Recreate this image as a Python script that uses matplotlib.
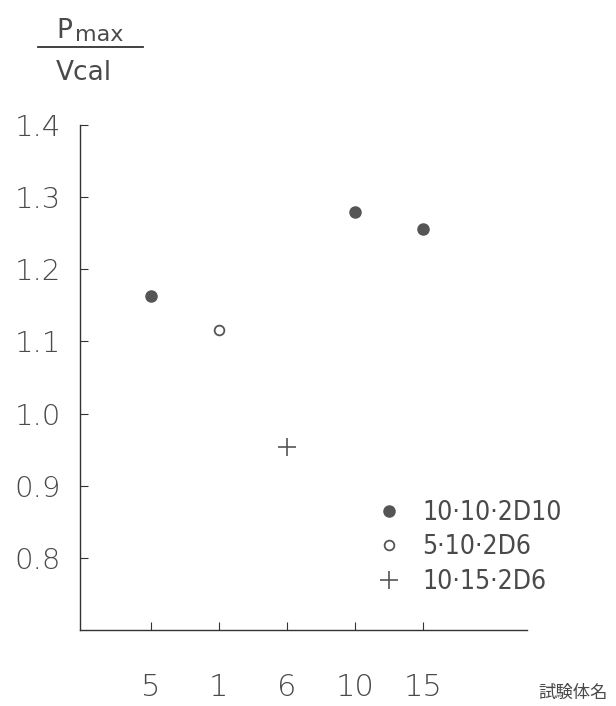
import matplotlib
matplotlib.use('Agg')
import matplotlib.pyplot as plt
from matplotlib.lines import Line2D

# data
specimens = ['5', '1', '6', '10', '15']
ratio = [1.163, 1.116, 0.953, 1.279, 1.256]
series_names = ['10·10·2D10', '5·10·2D6', '10·15·2D6']
series_of = [0, 1, 2, 0, 0]
yticks = [0.8, 0.9, 1.0, 1.1, 1.2, 1.3, 1.4]

INK = '#4a4a4a'
plt.rcParams['font.family'] = ['DejaVu Sans']

styles = [
    dict(marker='o', color='#555555', markersize=8, linestyle='none'),
    dict(marker='o', markerfacecolor='white', markeredgecolor='#555555',
         markeredgewidth=1.3, markersize=7, linestyle='none'),
    dict(marker='+', color='#555555', markersize=13, markeredgewidth=1.2, linestyle='none'),
]

fig = plt.figure(figsize=(6.16, 7.06), dpi=100)
ax = fig.add_axes([0.13, 0.1076, 0.725, 0.7154])

for i, val in enumerate(ratio):
    ax.plot(i, val, **styles[series_of[i]])

ax.set_xlim(-1.04, 5.53)
ax.set_ylim(0.70, 1.40)
ax.set_xticks(range(len(specimens)))
ax.set_xticklabels(specimens)
ax.set_yticks(yticks)
ax.set_yticklabels([f'{t:.1f}' for t in yticks])

for s in ['top', 'right']:
    ax.spines[s].set_visible(False)
for s in ['left', 'bottom']:
    ax.spines[s].set_color('#333333')
    ax.spines[s].set_linewidth(1.0)

ax.tick_params(axis='both', direction='in', length=6, color='#333333', labelcolor=INK)
ax.tick_params(axis='x', pad=31, labelsize=22)
ax.tick_params(axis='y', pad=14, labelsize=21)
for lab in ax.get_xticklabels() + ax.get_yticklabels():
    lab.set_fontweight('light')

handles = [Line2D([], [], **st) for st in styles]
leg = ax.legend(handles, series_names, loc='upper left', bbox_to_anchor=(0.61, 0.305),
                frameon=False, fontsize=19, handlelength=1.0, handletextpad=0.75,
                labelspacing=0.33, labelcolor=INK)
for t in leg.get_texts():
    t.set_fontstretch('condensed')

# y label as a fraction
fig.text(0.092, 0.946, 'P', fontsize=19, color=INK, ha='left', va='baseline')
fig.text(0.122, 0.942, 'max', fontsize=16, color=INK, ha='left', va='baseline')
fig.add_artist(Line2D([0.062, 0.232], [0.933, 0.933], color='#333333', linewidth=1.3))
fig.text(0.09, 0.887, 'Vcal', fontsize=19, color=INK, ha='left', va='baseline')

fig.text(0.874, 0.012, '試験体名', fontsize=12.5, color=INK, ha='left', va='baseline',
         family=['Noto Sans CJK JP', 'DejaVu Sans'])

fig.savefig('out.png', dpi=100, facecolor='white')
